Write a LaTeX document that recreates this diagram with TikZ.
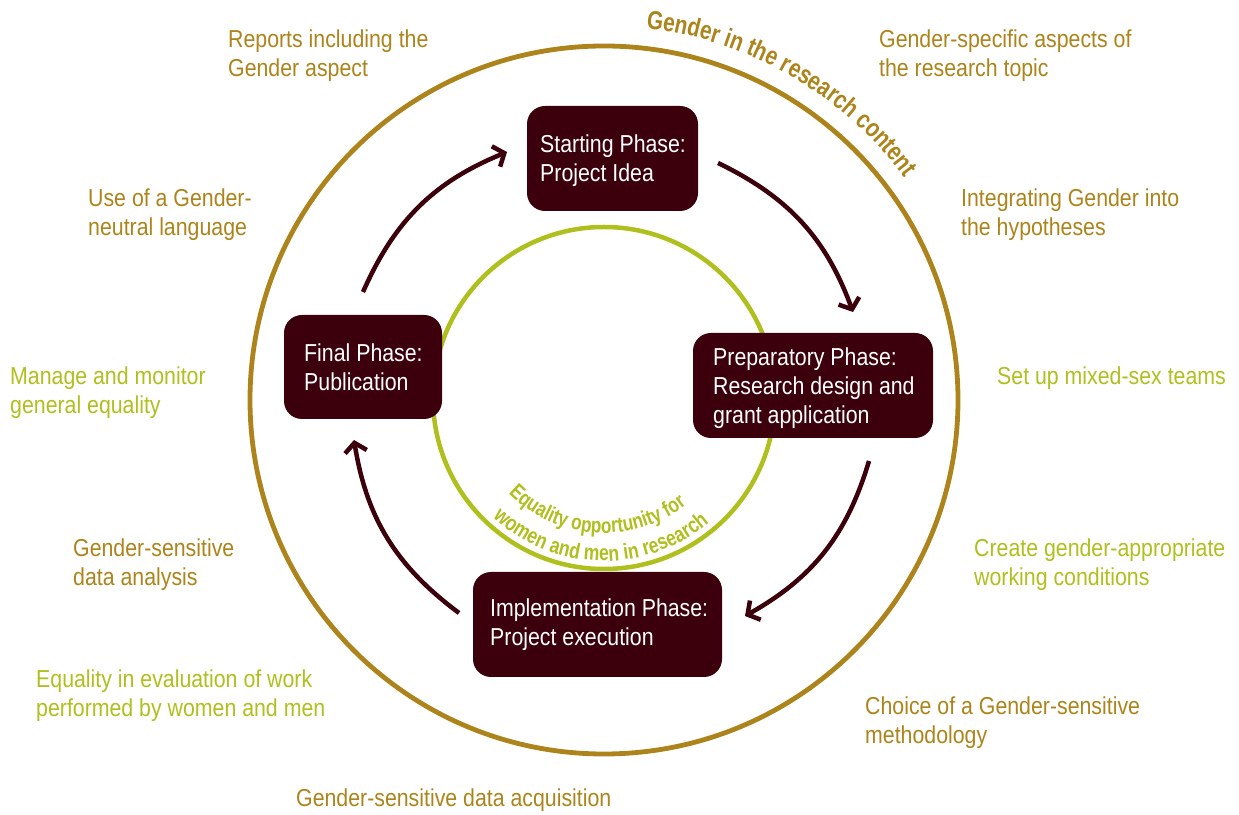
\documentclass[tikz,border=0pt]{standalone}
\usepackage{fontspec}
\setmainfont{Liberation Sans}[FakeStretch=0.87]
\newfontfamily\arcfont{Liberation Sans}[FakeStretch=0.8]
\usetikzlibrary{arrows.meta,decorations.text}

\definecolor{maroon}{HTML}{3B000B}
\definecolor{gold}{HTML}{AC841B}
\definecolor{lime}{HTML}{AFBF1E}

% stacked lines whose first baseline is the box baseline
\newcommand\twoln[2]{\vtop{\baselineskip=29pt\hbox{#1}\hbox{#2}}}
\newcommand\threeln[3]{\vtop{\baselineskip=29pt\hbox{#1}\hbox{#2}\hbox{#3}}}

\tikzset{
  txt/.style={anchor=base west, inner sep=0pt, font=\fontsize{24.5}{29}\selectfont},
  goldtxt/.style={txt, text=gold},
  limetxt/.style={txt, text=lime},
  phasebox/.style={fill=maroon, rounded corners=18pt, inner sep=0pt},
  phasetxt/.style={txt, text=white},
  flow/.style={draw=maroon, line width=4.5pt,
    -{Straight Barb[length=9pt,width=22pt]}},
}

\begin{document}
\begin{tikzpicture}[x=1pt,y=1pt]
\useasboundingbox (0,0) rectangle (1239,814);

\coordinate (C) at (604,414);
\coordinate (G) at (604,416);

% outer and inner rings
\draw[gold, line width=4.8pt] (C) circle[radius=354];
\draw[lime, line width=4.5pt] (G) circle[radius=171];

% ring captions
\path[decorate, decoration={text along path, text align=center,
  text={|\arcfont\fontsize{26}{26}\selectfont\bfseries\color{gold}|Gender in the research content}}]
  ([shift={(100:374)}]C) arc[start angle=100, end angle=20, radius=374];
\path[decorate, decoration={text along path, text align=left,
  text={|\arcfont\fontsize{21.5}{21.5}\selectfont\bfseries\color{lime}|Equality opportunity for}}]
  ([shift={(225:135)}]G) arc[start angle=225, end angle=335, radius=135];
\path[decorate, decoration={text along path, text align=left,
  text={|\arcfont\fontsize{22}{22}\selectfont\bfseries\color{lime}|women and men in research}}]
  ([shift={(227:163)}]G) arc[start angle=227, end angle=335, radius=163];

% phase boxes
\node[phasebox, minimum width=171pt, minimum height=105pt] (start) at (612.5,655.5) {};
\node[phasebox, minimum width=240pt, minimum height=105pt] (prep) at (813,428.5) {};
\node[phasebox, minimum width=158pt, minimum height=104pt] (final) at (363,447) {};
\node[phasebox, minimum width=249pt, minimum height=105pt] (impl) at (597.5,189.5) {};

\node[phasetxt] (starttxt) at (540,661) {\twoln{Starting Phase:}{Project Idea}};
\node[phasetxt] (preptxt) at (713,448) {\threeln{Preparatory Phase:}{Research design and}{grant application}};
\node[phasetxt] (finaltxt) at (304,452.5) {\twoln{Final Phase:}{Publication}};
\node[phasetxt] (impltxt) at (490,197) {\twoln{Implementation Phase:}{Project execution}};

% cycle arrows
\coordinate (tl0) at (363,522); \coordinate (tl1) at (507,662);
\coordinate (tr0) at (718,651); \coordinate (tr1) at (853,502);
\coordinate (rb0) at (869,353); \coordinate (rb1) at (745,198);
\coordinate (lb0) at (459,201); \coordinate (lb1) at (354,374);
\draw[flow] (tl0) to[bend left=22] (tl1);
\draw[flow] (tr0) to[bend left=22] (tr1);
\draw[flow] (rb0) to[bend left=22] (rb1);
\draw[flow] (lb0) to[bend left=22] (lb1);

% surrounding notes
\node[goldtxt] (n1) at (228,766) {\twoln{Reports including the}{Gender aspect}};
\node[goldtxt] (n2) at (879,766) {\twoln{Gender-specific aspects of}{the research topic}};
\node[goldtxt] (n3) at (88,607.5) {\twoln{Use of a Gender-}{neutral language}};
\node[goldtxt] (n4) at (961,607.5) {\twoln{Integrating Gender into}{the hypotheses}};
\node[limetxt] (n5) at (10,429.5) {\twoln{Manage and monitor}{general equality}};
\node[limetxt] (n6) at (997,429.5) {Set up mixed-sex teams};
\node[goldtxt] (n7) at (73,257.5) {\twoln{Gender-sensitive}{data analysis}};
\node[limetxt] (n8) at (974,257.5) {\twoln{Create gender-appropriate}{working conditions}};
\node[limetxt] (n9) at (36,126.5) {\twoln{Equality in evaluation of work}{performed by women and men}};
\node[goldtxt] (n10) at (865,99.5) {\twoln{Choice of a Gender-sensitive}{methodology}};
\node[goldtxt] (n11) at (296,7.5) {Gender-sensitive data acquisition};
\end{tikzpicture}
\end{document}
